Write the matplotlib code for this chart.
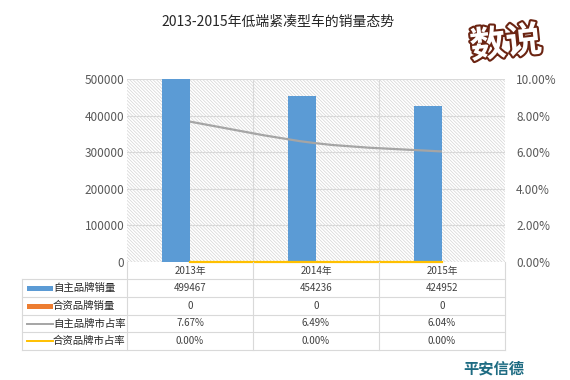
import matplotlib.pyplot as plt
import matplotlib.patheffects as pe
from matplotlib.path import Path
from matplotlib.patches import PathPatch, Rectangle
import numpy as np

plt.rcParams['font.family'] = ['Noto Sans CJK SC', 'DejaVu Sans']
plt.rcParams['hatch.linewidth'] = 0.5

# data
years = ['2013年', '2014年', '2015年']
own_sales = [499467, 454236, 424952]
jv_sales = [0, 0, 0]
own_share = [7.67, 6.49, 6.04]   # percent
jv_share = [0.00, 0.00, 0.00]
series_names = ['自主品牌销量', '合资品牌销量', '自主品牌市占率', '合资品牌市占率']
left_ticks = [0, 100000, 200000, 300000, 400000, 500000]
right_ticks = [0, 2, 4, 6, 8, 10]

BLUE = '#5b9bd5'
ORANGE = '#ed7d31'
GRAY = '#a5a5a5'
YELLOW = '#ffc000'
GRID = '#d9d9d9'
TXT = '#404040'

W, H = 570, 380
L, R, T, B = 127, 505, 79, 262   # plot area in pixels

fig = plt.figure(figsize=(W / 100, H / 100), dpi=100)
ax = fig.add_axes([L / W, 1 - B / H, (R - L) / W, (B - T) / H])
x = np.arange(len(years))

# hatched background of the plot area
ax.add_patch(Rectangle((0, 0), 1, 1, transform=ax.transAxes, facecolor='white',
                       edgecolor='#d4d4d4', hatch='\\' * 10, linewidth=0, zorder=0))

bw = 0.222
ax.bar(x - bw / 2, own_sales, bw, color=BLUE, zorder=3)
ax.bar(x + bw / 2, jv_sales, bw, color=ORANGE, zorder=3)
ax.set_xlim(-0.5, len(years) - 0.5)
ax.set_ylim(0, 500000)
ax.set_yticks(left_ticks)
ax.set_yticklabels([str(v) for v in left_ticks])
ax.set_xticks([])
ax.set_xticks(x[:-1] + 0.5, minor=True)
ax.tick_params(axis='x', which='both', length=0, labelbottom=False)
ax.tick_params(axis='y', length=0, pad=2, labelsize=8.5, labelcolor='#595959')
ax.grid(axis='y', color=GRID, lw=0.8, zorder=1)
ax.grid(axis='x', which='minor', color=GRID, lw=0.8, zorder=1)
ax.set_axisbelow(True)
for s in ax.spines.values():
    s.set_visible(False)

ax2 = ax.twinx()
ax2.set_ylim(0, 10)
ax2.set_yticks(right_ticks)
ax2.set_yticklabels(['%.2f%%' % v for v in right_ticks])
ax2.tick_params(axis='y', length=0, pad=8, labelsize=8.5, labelcolor='#595959')
for s in ax2.spines.values():
    s.set_visible(False)


# smoothed line (Excel style) as bezier path through the data points
def smooth_path(xs, ys):
    pts = np.column_stack([xs, ys]).astype(float)
    verts = [pts[0]]
    codes = [Path.MOVETO]
    n = len(pts)
    for i in range(n - 1):
        p0 = pts[max(i - 1, 0)]
        p1 = pts[i]
        p2 = pts[i + 1]
        p3 = pts[min(i + 2, n - 1)]
        verts += [p1 + (p2 - p0) / 6, p2 - (p3 - p1) / 6, p2]
        codes += [Path.CURVE4] * 3
    return Path(verts, codes)


ax2.add_patch(PathPatch(smooth_path(x, own_share), fill=False, edgecolor=GRAY, lw=1.6,
                        zorder=4, clip_on=False))
ax2.plot(x, jv_share, color=YELLOW, lw=1.6, zorder=4, clip_on=False)

# data table below the chart, drawn in pixel coordinates
tax = fig.add_axes([0, 0, 1, 1], facecolor='none')
tax.set_xlim(0, W)
tax.set_ylim(H, 0)
tax.axis('off')

col_w = (R - L) / len(years)
col_edges = [L + i * col_w for i in range(len(years) + 1)]
TL = 22
rows = [279, 297, 315, 332, 350]
for yy in rows:
    tax.plot([TL, R], [yy, yy], color=GRID, lw=0.8)
tax.plot([TL, TL], [rows[0], rows[-1]], color=GRID, lw=0.8)
for xe in col_edges:
    tax.plot([xe, xe], [B, rows[-1]], color=GRID, lw=0.8)

for i, yr in enumerate(years):
    tax.text(L + (i + 0.5) * col_w, (B + rows[0]) / 2 + 0.5, yr, ha='center', va='center',
             fontsize=7, color=TXT)

cells = [[str(v) for v in own_sales],
         [str(v) for v in jv_sales],
         ['%.2f%%' % v for v in own_share],
         ['%.2f%%' % v for v in jv_share]]
for r, name in enumerate(series_names):
    yc = (rows[r] + rows[r + 1]) / 2
    tax.text(53, yc, name, ha='left', va='center', fontsize=7.5, color='#262626')
    for i, val in enumerate(cells[r]):
        tax.text(L + (i + 0.5) * col_w, yc, val, ha='center', va='center', fontsize=7, color=TXT)

# legend keys in the row labels
y0 = (rows[0] + rows[1]) / 2
y1 = (rows[1] + rows[2]) / 2
tax.add_patch(Rectangle((27, y0 - 2.5), 26, 5, color=BLUE, lw=0))
tax.add_patch(Rectangle((27, y1 - 2.5), 26, 5, color=ORANGE, lw=0))
tax.plot([27, 53], [(rows[2] + rows[3]) / 2] * 2, color=GRAY, lw=1.4)
tax.plot([27, 53], [(rows[3] + rows[4]) / 2] * 2, color=YELLOW, lw=1.4)

# title and marks
fig.text(278 / W, 1 - 22 / H, '2013-2015年低端紧凑型车的销量态势', ha='center', va='center',
         fontsize=10, color='#262626')
fig.text(506 / W, 1 - 44 / H, '数说', ha='center', va='center', fontsize=26, fontweight='bold',
         color='white', rotation=6,
         path_effects=[pe.withStroke(linewidth=3, foreground='#6b2412')])
fig.text(494 / W, 1 - 368 / H, '平安信德', ha='center', va='center', fontsize=11,
         fontweight='bold', color='#1d6b82')

fig.savefig('out.png', dpi=100)
